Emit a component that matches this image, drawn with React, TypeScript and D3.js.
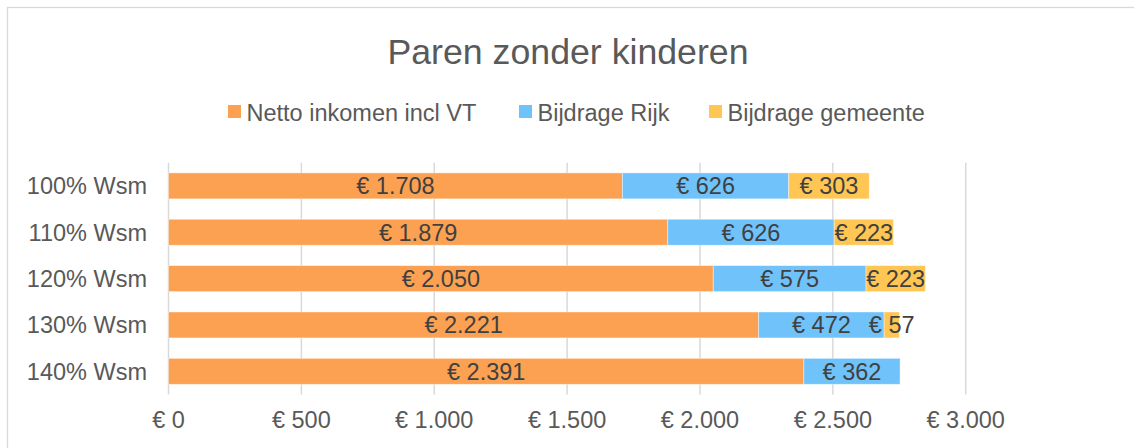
import React from "react";
import * as d3 from "d3";

const categories = ["100% Wsm", "110% Wsm", "120% Wsm", "130% Wsm", "140% Wsm"];
const seriesNames = ["Netto inkomen incl VT", "Bijdrage Rijk", "Bijdrage gemeente"];
const netto = [1708, 1879, 2050, 2221, 2391];
const rijk = [626, 626, 575, 472, 362];
const gemeente = [303, 223, 223, 57, 0];
const xTicks = [0, 500, 1000, 1500, 2000, 2500, 3000];
const colors = ["#FCA152", "#70C2FA", "#FFC654"];
const title = "Paren zonder kinderen";

const W = 1134;
const H = 448;
const FONT = "Liberation Sans, Arial, sans-serif";

const fmt = (v: number) =>
  "€ " + d3.format(",")(v).replace(/,/g, ".");

export default function App() {
  const x = d3.scaleLinear().domain([0, 3000]).range([168.5, 965.7]);
  const y = d3
    .scaleBand<string>()
    .domain(categories)
    .range([162.7, 394.5])
    .paddingInner(0.44)
    .paddingOuter(0.22);

  const table = categories.map((c, i) => ({
    cat: c,
    netto: netto[i],
    rijk: rijk[i],
    gemeente: gemeente[i],
  }));
  const stack = d3.stack<any>().keys(["netto", "rijk", "gemeente"])(table);

  const legendX = [228, 519, 709];

  return (
    <svg
      width={W}
      height={H}
      style={{ position: "absolute", left: 0, top: 0, background: "#fff" }}
      fontFamily={FONT}
    >
      <rect x={0} y={0} width={W} height={H} fill="#fff" />
      <rect x={7.5} y={7.5} width={W + 20} height={H + 20} fill="#fff" stroke="#d9d9d9" strokeWidth={1.3} />
      <text x={568} y={63.5} textAnchor="middle" fontSize={35.7} fill="#595959">
        {title}
      </text>
      {seriesNames.map((s, i) => (
        <g key={s}>
          <rect x={legendX[i]} y={105} width={13} height={13} fill={colors[i]} />
          <text x={legendX[i] + 18.5} y={121} fontSize={23.5} fill="#595959">
            {s}
          </text>
        </g>
      ))}
      {xTicks.map((t) => (
        <g key={t}>
          <line
            x1={x(t)}
            x2={x(t)}
            y1={162.7}
            y2={394.5}
            stroke="#d9d9d9"
            strokeWidth={1.5}
          />
          <text x={x(t)} y={427.5} textAnchor="middle" fontSize={23.5} fill="#595959">
            {fmt(t)}
          </text>
        </g>
      ))}
      {categories.map((c) => (
        <text
          key={c}
          x={147}
          y={(y(c) as number) + y.bandwidth() / 2 + 8.3}
          textAnchor="end"
          fontSize={23.5}
          fill="#595959"
        >
          {c}
        </text>
      ))}
      {stack.map((layer, li) => (
        <g key={li}>
          {layer.map((d, i) => {
            const v = d[1] - d[0];
            if (v <= 0) return null;
            const x0 = x(d[0]);
            const x1 = x(d[1]);
            const yy = y(categories[i]) as number;
            return (
              <rect
                key={i}
                x={x0}
                y={yy}
                width={x1 - x0}
                height={y.bandwidth()}
                fill={colors[li]}
                stroke="#ffffff"
                strokeOpacity={0.5}
                strokeWidth={0.8}
              />
            );
          })}
        </g>
      ))}
      {stack.map((layer, li) => (
        <g key={"l" + li}>
          {layer.map((d, i) => {
            const v = d[1] - d[0];
            if (v <= 0) return null;
            const yy = y(categories[i]) as number;
            return (
              <text
                key={i}
                x={(x(d[0]) + x(d[1])) / 2}
                y={yy + y.bandwidth() / 2 + 8.3}
                textAnchor="middle"
                fontSize={23.5}
                fill="#404040"
              >
                {fmt(v)}
              </text>
            );
          })}
        </g>
      ))}
    </svg>
  );
}
